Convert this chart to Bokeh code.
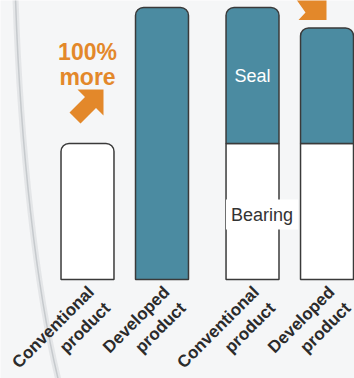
import numpy as np
from bokeh.plotting import figure
from bokeh.models import Range1d, Label, ColumnDataSource
from bokeh.core.properties import value
from bokeh.embed import file_html
from bokeh.resources import INLINE

# ---- data ----
categories = ["Conventional\nproduct", "Developed\nproduct",
              "Conventional\nproduct", "Developed\nproduct"]
group_index = [0, 0, 1, 1]
within_index = [0, 1, 0, 1]
# left pair: total life (relative)
total = [1.0, 2.0]
total_colors = ["white", "#4b8ba1"]
# right pair: components
bearing = [1.0, 1.0]
seal = [1.0, 0.85]

TEAL = "#4b8ba1"
ORANGE = "#e3882a"
EDGE = "#3a3a3a"
BG = "#f5f6f7"

GROUP_GAP = 2.215
xs = [g * GROUP_GAP + w for g, w in zip(group_index, within_index)]
BAR_W = 0.711

PX_X = 74.5   # px per x unit
PX_Y = 136.0  # px per y unit
X0_PX, Y0_PX = 87.0, 279.0

def X(px):
    return (px - X0_PX) / PX_X

def Y(py):
    return (Y0_PX - py) / PX_Y

p = figure(width=354, height=378, output_backend="svg", toolbar_location=None,
           x_range=Range1d(X(0), X(354)), y_range=Range1d(Y(378), Y(0)),
           min_border=0, background_fill_color=BG, border_fill_color=BG,
           outline_line_color=None)
p.axis.visible = False
p.grid.visible = False

# background streak
p.bezier(x0=[X(15)], y0=[Y(-2)], x1=[X(58)], y1=[Y(380)],
         cx0=[X(20)], cy0=[Y(150)], cx1=[X(36)], cy1=[Y(290)],
         line_color="#d3d6d9", line_width=6, line_alpha=0.5)
p.bezier(x0=[X(15)], y0=[Y(-2)], x1=[X(58)], y1=[Y(380)],
         cx0=[X(20)], cy0=[Y(150)], cx1=[X(36)], cy1=[Y(290)],
         line_color="#b9bdc2", line_width=1.5, line_alpha=0.7)

# left pair
p.vbar(x=xs[:2], width=BAR_W, bottom=0, top=total, fill_color=total_colors,
       line_color=EDGE, line_width=1.5, border_radius=(8, 8, 0, 0))

# right pair: bearing (bottom) and seal (top)
p.vbar(x=xs[2:], width=BAR_W, bottom=0, top=bearing, fill_color="white",
       line_color=EDGE, line_width=1.5)
seal_top = [b + s for b, s in zip(bearing, seal)]
p.vbar(x=xs[2:], width=BAR_W, bottom=bearing, top=seal_top, fill_color=TEAL,
       line_color=EDGE, line_width=1.5, border_radius=(8, 8, 0, 0))

# segment labels
p.text(x=[xs[2]], y=[bearing[0] + seal[0] / 2], text=["Seal"],
       text_color="white", text_font=value("Liberation Sans"),
       text_font_size="18px", text_align="center", text_baseline="middle")
p.add_layout(Label(x=xs[2], y=bearing[0] / 2, x_offset=9.5, y_offset=-3,
                   text="Bearing", text_color="#333333",
                   text_font="Liberation Sans", text_font_size="18px",
                   text_align="center", text_baseline="middle",
                   background_fill_color="white", padding=5))

# "100% more" annotation
p.text(x=[xs[0], xs[0]], y=[Y(51), Y(76)], text=["100%", "more"],
       text_color=ORANGE, text_font=value("Liberation Sans"),
       text_font_style="bold", text_font_size="23px",
       text_align="center", text_baseline="alphabetic")

# block arrow (up-right)
tip_x, tip_y = 103, 89
shape = [(0, 0), (-26, 0), (-18.5, 7.5), (-34, 23), (-23, 34), (-7.5, 18.5), (0, 26)]
p.patch(x=[X(tip_x + dx) for dx, dy in shape], y=[Y(tip_y + dy) for dx, dy in shape],
        fill_color=ORANGE, line_color=None)

# partial arrow tail at top right
tail = [(293, -5), (305, 12), (298, 19.5), (326, 19.5), (326, -5)]
p.patch(x=[X(a) for a, b in tail], y=[Y(b) for a, b in tail],
        fill_color=ORANGE, line_color=None)

# rotated category labels
xoff = [-3 if c.startswith("Conv") else -2 for c in categories]
src = ColumnDataSource(dict(x=xs, y=[0] * 4, text=categories, xo=xoff, yo=[3] * 4))
p.text(x="x", y="y", text="text", source=src, x_offset="xo", y_offset="yo",
       angle=np.pi / 4, text_align="right", text_baseline="top",
       text_font=value("Liberation Sans"), text_font_style="bold",
       text_font_size="17px", text_color="#2b2b2b", text_line_height=1.2)

open("out.html", "w").write(file_html(p, INLINE))
